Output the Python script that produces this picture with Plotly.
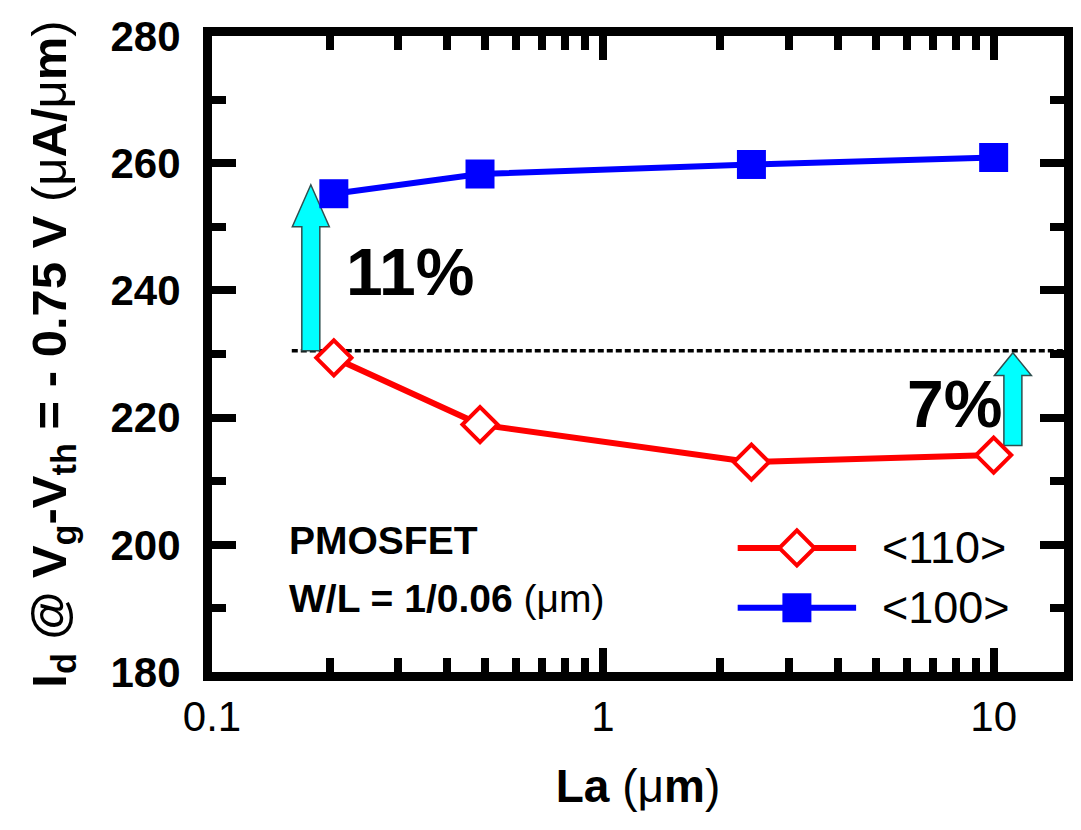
import plotly.graph_objects as go

# ---- data ----
la_um = [0.205, 0.485, 2.40, 10.0]
id_110 = [229.4, 218.9, 213.0, 214.1]
id_100 = [255.2, 258.3, 259.8, 260.9]
series_names = ["<110>", "<100>"]

ref_level = 230.5            # dotted reference line
ref_x_start = 0.16
arrow_x = [0.179, 11.2]
arrow_y0 = [230.5, 215.6]
arrow_y1 = [256.6, 230.2]
arrow_headbase = [250.0, 226.6]
arrow_labels = ["11%", "7%"]

x_range_log = [-1, 1.18]
y_range = [180, 280]
x_tickvals = [0.1, 1, 10]
x_ticktext = ["0.1", "1", "10"]

FONT = "Liberation Sans, Arial, sans-serif"
RED = "#FF0000"
BLUE = "#0000FF"

fig = go.Figure()

fig.add_trace(go.Scatter(
    x=la_um, y=id_110, mode="lines+markers", name=series_names[0],
    line=dict(color=RED, width=6),
    marker=dict(symbol="diamond", size=27, color="white", line=dict(color=RED, width=4)),
    showlegend=False))
fig.add_trace(go.Scatter(
    x=la_um, y=id_100, mode="lines+markers", name=series_names[1],
    line=dict(color=BLUE, width=6),
    marker=dict(symbol="square", size=29, color=BLUE, line=dict(width=0)),
    showlegend=False))

# manual legend on an overlay axis (0..1 in plot-area fraction)
leg_rows = [0.195, 0.101]
leg_x = [0.617, 0.756]
leg_mx = 0.6865
fig.add_trace(go.Scatter(x=leg_x, y=[leg_rows[0]] * 2, xaxis="x2", yaxis="y2", mode="lines",
                         line=dict(color=RED, width=6), showlegend=False, hoverinfo="skip"))
fig.add_trace(go.Scatter(x=[leg_mx], y=[leg_rows[0]], xaxis="x2", yaxis="y2", mode="markers",
                         marker=dict(symbol="diamond", size=27, color="white", line=dict(color=RED, width=4)),
                         showlegend=False, hoverinfo="skip"))
fig.add_trace(go.Scatter(x=leg_x, y=[leg_rows[1]] * 2, xaxis="x2", yaxis="y2", mode="lines",
                         line=dict(color=BLUE, width=6), showlegend=False, hoverinfo="skip"))
fig.add_trace(go.Scatter(x=[leg_mx], y=[leg_rows[1]], xaxis="x2", yaxis="y2", mode="markers",
                         marker=dict(symbol="square", size=29, color=BLUE, line=dict(width=0)),
                         showlegend=False, hoverinfo="skip"))

shapes = []
# dotted reference line
shapes.append(dict(type="line", xref="x", yref="y", x0=ref_x_start, x1=10 ** x_range_log[1],
                   y0=ref_level, y1=ref_level, layer="below",
                   line=dict(color="black", width=3.5, dash="6px,3px")))
# block arrows (x in pixels around anchor, y in data)
for i, ax_ in enumerate(arrow_x):
    y0, y1, hb = arrow_y0[i], arrow_y1[i], arrow_headbase[i]
    path = (f"M -9,{y0} L -9,{hb} L -18.5,{hb} L 0,{y1} "
            f"L 18.5,{hb} L 9,{hb} L 9,{y0} Z")
    shapes.append(dict(type="path", xref="x", yref="y", xsizemode="pixel", xanchor=ax_,
                       path=path, fillcolor="#00FFFF", layer="below",
                       line=dict(color="#2F4F4F", width=1.5)))

def ann(text, x, y, size, xanchor="center"):
    return dict(text=text, xref="paper", yref="paper", x=x, y=y,
                xanchor=xanchor, yanchor="middle", showarrow=False,
                font=dict(size=size, color="black", family=FONT))

annotations = [
    ann("<b>" + arrow_labels[0] + "</b>", 0.232, 0.629, 66),
    ann("<b>" + arrow_labels[1] + "</b>", 0.872, 0.421, 66),
    ann("<b>PMOSFET</b>", 0.088, 0.2075, 39, "left"),
    ann("<b>W/L = 1/0.06 </b>(μm)", 0.088, 0.116, 39, "left"),
]
for name, yy in zip(series_names, leg_rows):
    annotations.append(ann(name.replace("<", "&lt;").replace(">", "&gt;"), 0.784, yy, 45, "left"))

axis_common = dict(showline=True, linecolor="black", linewidth=9, mirror="ticks",
                   ticks="inside", tickcolor="black", tickwidth=8, ticklen=24,
                   showgrid=False, zeroline=False)

fig.update_layout(
    width=1081, height=830,
    margin=dict(l=212, r=8, t=36, b=158),
    paper_bgcolor="white", plot_bgcolor="white",
    font=dict(family=FONT, color="black"),
    shapes=shapes, annotations=annotations,
    xaxis=dict(type="log", range=x_range_log, tickvals=x_tickvals, ticktext=x_ticktext,
               tickfont=dict(size=42, family=FONT, color="black"),
               minor=dict(ticks="inside", ticklen=14, tickwidth=8, tickcolor="black", dtick="D1"),
               title=dict(text="<b>La </b>(μ<b>m</b>)", font=dict(size=46, family=FONT, color="black"),
                          standoff=34),
               **axis_common),
    yaxis=dict(range=y_range, dtick=20, tick0=180,
               tickfont=dict(size=42, family=FONT, color="black", weight="bold"),
               ticklabelstandoff=14,
               minor=dict(ticks="inside", ticklen=14, tickwidth=8, tickcolor="black", dtick=10),
               title=dict(text="<b>I<sub>d</sub> @ V<sub>g</sub>-V<sub>th</sub> = - 0.75 V </b>(μ<b>A/</b>μ<b>m</b>)",
                          font=dict(size=49, family=FONT, color="black"), standoff=32),
               **axis_common),
    xaxis2=dict(overlaying="x", range=[0, 1], visible=False, fixedrange=True),
    yaxis2=dict(overlaying="y", range=[0, 1], visible=False, fixedrange=True),
)

fig.write_html("out.html", config={"displayModeBar": False},
               post_script="document.body.style.margin='0px';document.body.style.overflow='hidden';")
